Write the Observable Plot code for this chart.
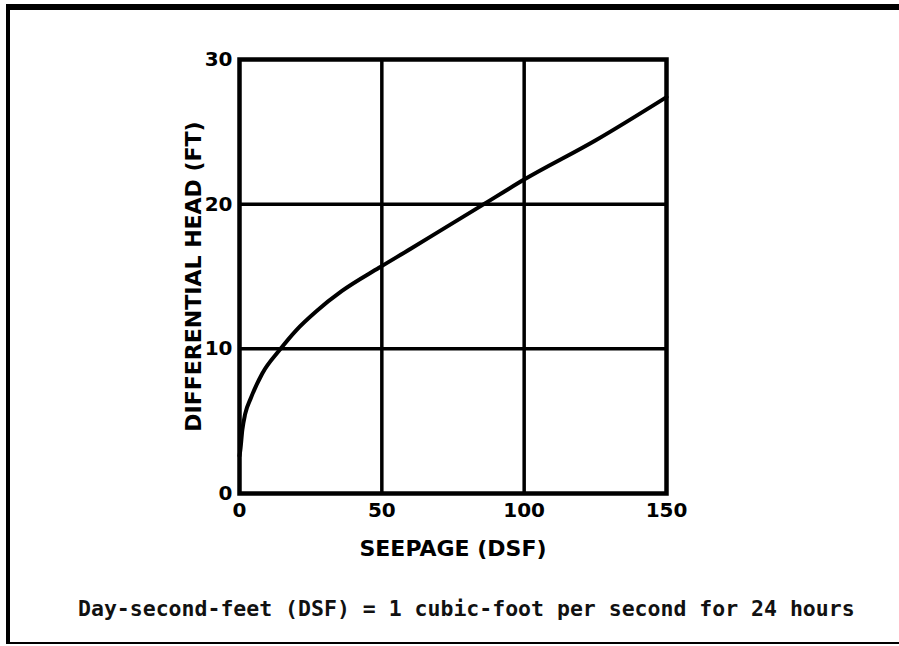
<!DOCTYPE html>
<html>
<head>
<meta charset="utf-8">
<script src="https://cdn.jsdelivr.net/npm/d3@7"></script>
<script src="https://cdn.jsdelivr.net/npm/@observablehq/plot@0.6"></script>
<style>
  html, body { margin: 0; padding: 0; background: #fff; }
  #page { position: relative; width: 899px; height: 646px; overflow: hidden; background: #fff; }
  #border { position: absolute; left: 6px; top: 4px; width: 900px; height: 632px;
            border-left: 4px solid #000; border-top: 6px solid #000; border-bottom: 2px solid #000; }
  #chart { position: absolute; left: 0; top: 0; }
  #caption { position: absolute; left: 78px; top: 598px; white-space: nowrap;
             font-family: "DejaVu Sans Mono", "Liberation Mono", monospace; font-weight: bold;
             font-size: 21.5px; color: #111; line-height: 1; }
</style>
</head>
<body>
<div id="page">
  <div id="border"></div>
  <div id="chart"></div>
  <div id="caption">Day-second-feet (DSF) = 1 cubic-foot per second for 24 hours</div>
</div>
<script>
// Curve
const seepage = [0, 0.3, 1, 2, 4, 8, 14, 20, 27, 36, 49, 60, 70, 85, 100, 125, 150];
const head    = [2.6, 3.0, 4.4, 5.5, 6.6, 8.3, 9.9, 11.3, 12.6, 14.0, 15.6, 16.9, 18.1, 19.9, 21.7, 24.4, 27.4];

const xTicks = [0, 50, 100, 150];
const yTicks = [0, 10, 20, 30];
const xGrid = [50, 100];
const yGrid = [10, 20];
const xLabel = "SEEPAGE (DSF)";
const yLabel = "DIFFERENTIAL HEAD (FT)";

const data = seepage.map((s, i) => ({seepage: s, head: head[i]}));

const chart = Plot.plot({
  width: 899,
  height: 560,
  marginLeft: 239,
  marginRight: 233,
  marginTop: 59,
  marginBottom: 67,
  style: {fontFamily: "'DejaVu Sans', sans-serif", fontWeight: "bold", fontSize: "20px", color: "#000", background: "transparent"},
  x: {domain: [0, 150]},
  y: {domain: [0, 30]},
  marks: [
    Plot.ruleX(xGrid, {stroke: "#000", strokeWidth: 3.5}),
    Plot.ruleY(yGrid, {stroke: "#000", strokeWidth: 3.5}),
    Plot.frame({stroke: "#000", strokeWidth: 4.5}),
    Plot.line(data, {x: "seepage", y: "head", stroke: "#000", strokeWidth: 4, curve: "monotone-x"}),
    Plot.axisX({ticks: xTicks, tickSize: 0, tickPadding: 9, label: null, fontSize: 20, fontWeight: "bold"}),
    Plot.axisY({ticks: yTicks, tickSize: 0, tickPadding: 7, label: null, fontSize: 20, fontWeight: "bold"}),
    Plot.text([xLabel], {frameAnchor: "bottom", dy: 55, lineAnchor: "middle", textAnchor: "middle", fontSize: 22, fontWeight: "bold", fill: "#000"}),
    Plot.text([yLabel], {frameAnchor: "left", dx: -46, rotate: -90, lineAnchor: "middle", textAnchor: "middle", fontSize: 22, fontWeight: "bold", fill: "#000"})
  ]
});
document.getElementById("chart").appendChild(chart);
</script>
</body>
</html>
